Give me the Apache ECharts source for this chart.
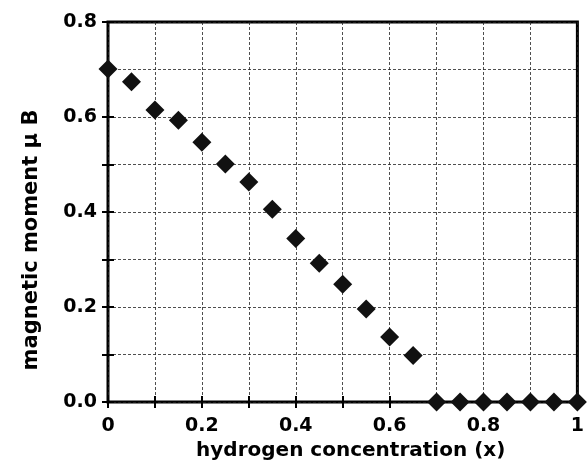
<!DOCTYPE html>
<html><head><meta charset="utf-8">
<script src="https://cdn.jsdelivr.net/npm/echarts@6/dist/echarts.min.js"></script>
<style>html,body{margin:0;padding:0;background:#fff}#c{width:587px;height:468px}</style>
</head><body><div id="c"></div>
<script>
const concentration = [0, 0.05, 0.1, 0.15, 0.2, 0.25, 0.3, 0.35, 0.4, 0.45, 0.5, 0.55, 0.6, 0.65, 0.7, 0.75, 0.8, 0.85, 0.9, 0.95, 1.0];
const moment = [0.701, 0.674, 0.615, 0.593, 0.547, 0.501, 0.463, 0.406, 0.344, 0.292, 0.248, 0.196, 0.137, 0.098, 0, 0, 0, 0, 0, 0, 0];
const xTickLabels = ['0', '0.2', '0.4', '0.6', '0.8', '1'];
const yTickLabels = ['0.0', '0.2', '0.4', '0.6', '0.8'];
const xName = 'hydrogen concentration (x)';
const yName = 'magnetic moment \u03bc B';

const font = 'DejaVu Sans, Liberation Sans, Arial, sans-serif';
const chart = echarts.init(document.getElementById('c'));
const lbl = {fontFamily: font, fontWeight: 'bold', fontSize: 19, color: '#000'};
const split = {show: true, lineStyle: {color: '#222', type: [3, 2], width: 0.8}};
const tick = {show: true, inside: true, length: 6, lineStyle: {color: '#000', width: 2}};
chart.setOption({
  animation: false,
  grid: {left: 108, top: 22, right: 7, bottom: 66, show: true, borderColor: '#000', borderWidth: 3, backgroundColor: 'transparent'},
  xAxis: [{
    type: 'value', min: 0, max: 1, interval: 0.1,
    axisLine: {show: false},
    axisTick: tick,
    splitLine: split,
    axisLabel: Object.assign({}, lbl, {margin: 15, formatter: v => {
      const i = Math.round(v * 10);
      return i % 2 === 0 ? xTickLabels[i / 2] : '';
    }}),
    name: xName, nameLocation: 'middle', nameGap: 38,
    nameTextStyle: {fontFamily: font, fontWeight: 'bold', fontSize: 20, color: '#000', padding: [0, 0, 0, 16]}
  }, {
    type: 'value', min: 0, max: 1, interval: 0.1, position: 'top',
    axisLine: {show: false}, axisTick: tick, splitLine: {show: false}, axisLabel: {show: false}
  }],
  yAxis: [{
    type: 'value', min: 0, max: 0.8, interval: 0.1,
    axisLine: {show: false},
    axisTick: tick,
    splitLine: split,
    axisLabel: Object.assign({}, lbl, {margin: 11, formatter: v => {
      const i = Math.round(v * 10);
      return i % 2 === 0 ? yTickLabels[i / 2] : '';
    }}),
    name: yName, nameLocation: 'middle', nameGap: 66,
    nameTextStyle: {fontFamily: font, fontWeight: 'bold', fontSize: 21, color: '#000', padding: [0, 56, 0, 0]}
  }, {
    type: 'value', min: 0, max: 0.8, interval: 0.1, position: 'right',
    axisLine: {show: false}, axisTick: tick, splitLine: {show: false}, axisLabel: {show: false}
  }],
  series: [{
    type: 'scatter', clip: false, z: 10,
    symbol: 'diamond', symbolSize: [19, 19],
    itemStyle: {color: '#111', opacity: 1},
    data: concentration.map((x, i) => [x, moment[i]])
  }]
});
</script></body></html>
